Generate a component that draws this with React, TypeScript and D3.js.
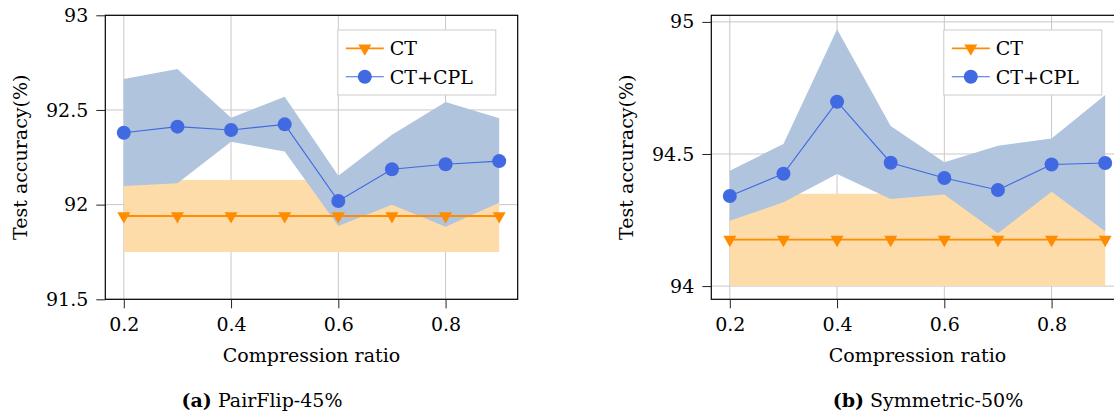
import React, { useEffect, useRef } from 'react';
import * as d3 from 'd3';

// compression ratios on the x axis
const ratios = [0.2, 0.3, 0.4, 0.5, 0.6, 0.7, 0.8, 0.9];
const xTicks = [0.2, 0.4, 0.6, 0.8];

// (a) PairFlip-45%
const pairCtMean = [91.94, 91.94, 91.94, 91.94, 91.94, 91.94, 91.94, 91.94];
const pairCtLow = [91.75, 91.75, 91.75, 91.75, 91.75, 91.75, 91.75, 91.75];
const pairCtHigh = [92.1, 92.13, 92.13, 92.13, 92.13, 92.0, 92.01, 92.01];
const pairCplMean = [92.38, 92.412, 92.394, 92.424, 92.019, 92.187, 92.213, 92.23];
const pairCplLow = [92.098, 92.113, 92.332, 92.28, 91.887, 92.0, 91.883, 92.01];
const pairCplHigh = [92.664, 92.716, 92.459, 92.57, 92.153, 92.369, 92.542, 92.456];
const pairYTicks = [91.5, 92, 92.5, 93];
const pairYLabels = ['91.5', '92', '92.5', '93'];

// (b) Symmetric-50%
const symCtMean = [94.176, 94.176, 94.176, 94.176, 94.176, 94.176, 94.176, 94.176];
const symCtLow = [94.0, 94.0, 94.0, 94.0, 94.0, 94.0, 94.0, 94.0];
const symCtHigh = [94.3, 94.35, 94.35, 94.35, 94.35, 94.25, 94.36, 94.25];
const symCplMean = [94.341, 94.425, 94.698, 94.467, 94.409, 94.364, 94.46, 94.466];
const symCplLow = [94.247, 94.317, 94.424, 94.33, 94.347, 94.2, 94.357, 94.208];
const symCplHigh = [94.437, 94.538, 94.972, 94.606, 94.469, 94.531, 94.559, 94.723];
const symYTicks = [94, 94.5, 95];
const symYLabels = ['94', '94.5', '95'];

const legendLabels = ['CT', 'CT+CPL'];

const FONT = '"DejaVu Serif", serif';
const ORANGE = '#ff8c00';
const ORANGE_BAND = '#fddca9';
const BLUE = '#4169e1';
const BLUE_BAND = '#b0c4de';
const GRID = '#c8c8c8';

interface Panel {
  left: number;
  right: number;
  yDomain: [number, number];
  yTicks: number[];
  yLabels: string[];
  ctMean: number[];
  ctLow: number[];
  ctHigh: number[];
  cplMean: number[];
  cplLow: number[];
  cplHigh: number[];
  caption: string;
  captionX: number;
  yTitleX: number;
}

const panels: Panel[] = [
  {
    left: 105.3, right: 517.7, yDomain: [91.5, 93],
    yTicks: pairYTicks, yLabels: pairYLabels,
    ctMean: pairCtMean, ctLow: pairCtLow, ctHigh: pairCtHigh,
    cplMean: pairCplMean, cplLow: pairCplLow, cplHigh: pairCplHigh,
    caption: 'PairFlip-45%', captionX: 262, yTitleX: 27,
  },
  {
    left: 711.3, right: 1123.7, yDomain: [93.95, 95.025],
    yTicks: symYTicks, yLabels: symYLabels,
    ctMean: symCtMean, ctLow: symCtLow, ctHigh: symCtHigh,
    cplMean: symCplMean, cplLow: symCplLow, cplHigh: symCplHigh,
    caption: 'Symmetric-50%', captionX: 928, yTitleX: 633,
  },
];

const W = 1114;
const H = 415;
const TOP = 15.3;
const BOTTOM = 299.3;

const App: React.FC = () => {
  const svgRef = useRef<SVGSVGElement>(null);

  useEffect(() => {
    if (!svgRef.current) return;
    const svg = d3.select(svgRef.current);
    svg.selectAll('*').remove();

    panels.forEach((p, pi) => {
      const g = svg.append('g');
      const x = d3.scaleLinear().domain([0.1655, 0.9345]).range([p.left, p.right]);
      const y = d3.scaleLinear().domain(p.yDomain).range([BOTTOM, TOP]);

      // grid
      g.selectAll('.vgrid')
        .data(xTicks)
        .enter()
        .append('line')
        .attr('x1', d => x(d))
        .attr('x2', d => x(d))
        .attr('y1', TOP)
        .attr('y2', BOTTOM)
        .attr('stroke', GRID)
        .attr('stroke-width', 1);
      g.selectAll('.hgrid')
        .data(p.yTicks)
        .enter()
        .append('line')
        .attr('x1', p.left)
        .attr('x2', p.right)
        .attr('y1', d => y(d))
        .attr('y2', d => y(d))
        .attr('stroke', GRID)
        .attr('stroke-width', 1);

      // bands
      const band = (low: number[], high: number[]) =>
        d3.area<number>()
          .x((_, i) => x(ratios[i]))
          .y0((_, i) => y(low[i]))
          .y1((_, i) => y(high[i]))(ratios);

      g.append('path').attr('d', band(p.ctLow, p.ctHigh)).attr('fill', ORANGE_BAND);
      g.append('path').attr('d', band(p.cplLow, p.cplHigh)).attr('fill', BLUE_BAND);

      const line = (vals: number[]) =>
        d3.line<number>()
          .x((_, i) => x(ratios[i]))
          .y((_, i) => y(vals[i]))(ratios);

      const tri = d3.symbol().type(d3.symbolTriangle).size(74)();

      // CT
      g.append('path')
        .attr('d', line(p.ctMean))
        .attr('fill', 'none')
        .attr('stroke', ORANGE)
        .attr('stroke-width', 1.8);
      g.selectAll('.ct-pt')
        .data(ratios)
        .enter()
        .append('path')
        .attr('d', tri)
        .attr('transform', (d, i) => `translate(${x(d)},${y(p.ctMean[i])}) rotate(180)`)
        .attr('fill', ORANGE);

      // CT+CPL
      g.append('path')
        .attr('d', line(p.cplMean))
        .attr('fill', 'none')
        .attr('stroke', BLUE)
        .attr('stroke-width', 1.1);
      g.selectAll('.cpl-pt')
        .data(ratios)
        .enter()
        .append('circle')
        .attr('cx', d => x(d))
        .attr('cy', (_, i) => y(p.cplMean[i]))
        .attr('r', 7)
        .attr('fill', BLUE);

      // axis frame
      g.append('rect')
        .attr('x', p.left)
        .attr('y', TOP)
        .attr('width', p.right - p.left)
        .attr('height', BOTTOM - TOP)
        .attr('fill', 'none')
        .attr('stroke', '#000')
        .attr('stroke-width', 1.2);

      // x ticks
      const xAxis = g.append('g')
        .attr('transform', `translate(0,${BOTTOM})`)
        .call(d3.axisBottom(x).tickValues(xTicks).tickSize(9).tickPadding(9)
          .tickFormat(d => d3.format('.1f')(d as number)));
      xAxis.select('.domain').remove();
      xAxis.selectAll('.tick line').attr('stroke', '#222').attr('stroke-width', 1);
      xAxis.selectAll('text')
        .attr('fill', '#000')
        .style('font-family', FONT)
        .style('font-size', '19px');

      // y ticks
      const yAxis = g.append('g')
        .attr('transform', `translate(${p.left},0)`)
        .call(d3.axisLeft(y).tickValues(p.yTicks).tickSize(9).tickPadding(8)
          .tickFormat((_, i) => p.yLabels[i]));
      yAxis.select('.domain').remove();
      yAxis.selectAll('.tick line').attr('stroke', '#222').attr('stroke-width', 1);
      yAxis.selectAll('text')
        .attr('fill', '#000')
        .style('font-family', FONT)
        .style('font-size', '19px');

      // axis titles
      g.append('text')
        .attr('x', (p.left + p.right) / 2)
        .attr('y', 362)
        .attr('text-anchor', 'middle')
        .style('font-family', FONT)
        .style('font-size', '19px')
        .text('Compression ratio');

      g.append('text')
        .attr('transform', `translate(${p.yTitleX},${(TOP + BOTTOM) / 2}) rotate(-90)`)
        .attr('text-anchor', 'middle')
        .style('font-family', FONT)
        .style('font-size', '19px')
        .text('Test accuracy(%)');

      // legend
      const lx = p.left + 232.5;
      const legend = g.append('g').attr('transform', `translate(${lx},30)`);
      legend.append('rect')
        .attr('width', 158)
        .attr('height', 65)
        .attr('fill', '#fff')
        .attr('stroke', '#cccccc')
        .attr('stroke-width', 1);
      legendLabels.forEach((label, i) => {
        const row = legend.append('g').attr('transform', `translate(0,${18.3 + i * 28.4})`);
        row.append('line')
          .attr('x1', 8)
          .attr('x2', 46)
          .attr('stroke', i === 0 ? ORANGE : BLUE)
          .attr('stroke-width', i === 0 ? 1.8 : 1.1);
        if (i === 0) {
          row.append('path')
            .attr('d', tri)
            .attr('transform', 'translate(27,0) rotate(180)')
            .attr('fill', ORANGE);
        } else {
          row.append('circle').attr('cx', 27).attr('r', 7).attr('fill', BLUE);
        }
        row.append('text')
          .attr('x', 52)
          .attr('y', 7)
          .style('font-family', FONT)
          .style('font-size', '19px')
          .text(label);
      });

      // sub-caption
      const cap = g.append('text')
        .attr('x', p.captionX)
        .attr('y', 407)
        .attr('text-anchor', 'middle')
        .style('font-family', FONT)
        .style('font-size', '19px');
      cap.append('tspan').style('font-weight', 'bold').text(pi === 0 ? '(a)' : '(b)');
      cap.append('tspan').text(' ' + p.caption);
    });
  }, []);

  return (
    <svg
      ref={svgRef}
      width={W}
      height={H}
      style={{ position: 'absolute', left: 0, top: 0, background: '#fff' }}
    />
  );
};

export default App;
